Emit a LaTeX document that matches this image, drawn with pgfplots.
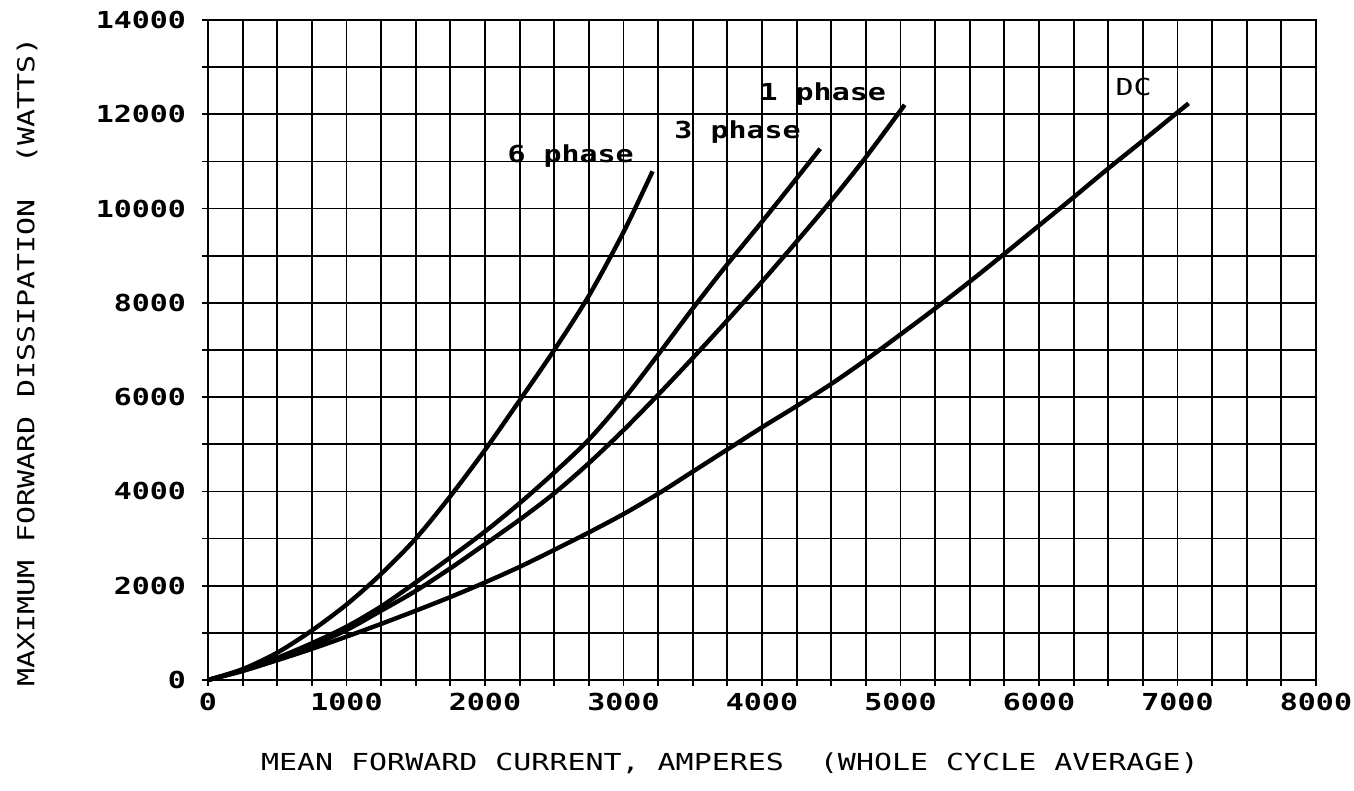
\documentclass[border=0pt]{standalone}
\usepackage{fontspec}
\usepackage{pgfplots}
\usepackage{pgfplotstable}
\pgfplotsset{compat=1.18}
\newfontfamily\plotfont[FakeStretch=1.28]{DejaVu Sans Mono}
\newcommand{\pfs}{\plotfont\fontsize{11.7pt}{14pt}\selectfont}

\pgfplotstableread{
x y
0 0
250 190
500 420
750 660
1000 920
1250 1190
1500 1470
1750 1760
2000 2070
2250 2400
2500 2760
2750 3130
3000 3520
3250 3950
3500 4420
3750 4890
4000 5360
4250 5810
4500 6280
4750 6790
5000 7330
5250 7880
5500 8450
5750 9040
6000 9640
6250 10240
6500 10850
6750 11440
7000 12040
7080 12230
}\dcdata

\pgfplotstableread{
x y
0 0
250 200
500 450
750 730
1000 1060
1250 1470
1500 1890
1750 2370
2000 2880
2250 3400
2500 3960
2750 4600
3000 5300
3250 6050
3500 6830
3750 7630
4000 8450
4250 9300
4500 10170
4750 11090
5030 12200
}\onephase

\pgfplotstableread{
x y
0 0
250 210
500 470
750 780
1000 1130
1250 1560
1500 2070
1750 2600
2000 3150
2250 3750
2500 4400
2750 5100
3000 5950
3250 6900
3500 7880
3750 8820
4000 9720
4250 10640
4420 11270
}\threephase

\pgfplotstableread{
x y
0 0
250 230
500 580
750 1050
1000 1600
1250 2250
1500 3000
1750 3900
2000 4880
2250 5930
2500 7000
2750 8150
3000 9500
3210 10790
}\sixphase

\begin{document}
\begin{tikzpicture}
\begin{axis}[
  scale only axis,
  width=554pt, height=330pt,
  xmin=0, xmax=8000, ymin=0, ymax=14000,
  xtick={0,1000,...,8000},
  ytick={0,2000,...,14000},
  minor xtick={250,500,...,7750},
  minor ytick={1000,3000,...,13000},
  scaled x ticks=false, scaled y ticks=false,
  grid=both,
  major grid style={black, line width=0.9pt},
  minor grid style={black, line width=0.9pt},
  axis line style={black, line width=1.4pt},
  tick align=outside,
  tick pos=left,
  major tick length=3pt, minor tick length=3pt,
  every tick/.style={black, line width=0.9pt},
  /pgf/number format/1000 sep={},
  /pgf/number format/assume math mode=true,
  tick label style={font=\pfs\bfseries},
  yticklabel style={xshift=-4.5pt},
  xlabel={MEAN FORWARD CURRENT, AMPERES\ \ (WHOLE CYCLE AVERAGE)},
  ylabel={MAXIMUM FORWARD DISSIPATION\ \ (WATTS)},
  label style={font=\pfs},
  xlabel style={at={(axis description cs:0.471,0)}, anchor=center, yshift=-41.5pt},
  ylabel style={at={(axis description cs:0,0.482)}, anchor=center, yshift=90.5pt},
  clip=false,
]
\addplot[black, line width=2.2pt, smooth] table[x=x,y=y] {\dcdata};
\addplot[black, line width=2.2pt, smooth] table[x=x,y=y] {\onephase};
\addplot[black, line width=2.2pt, smooth] table[x=x,y=y] {\threephase};
\addplot[black, line width=2.2pt, smooth] table[x=x,y=y] {\sixphase};
\node[anchor=base west, inner sep=0pt, font=\pfs\bfseries] at (axis cs:3980,12300) {1 phase};
\node[anchor=base west, inner sep=0pt, font=\pfs\bfseries] at (axis cs:3365,11480) {3 phase};
\node[anchor=base west, inner sep=0pt, font=\pfs\bfseries] at (axis cs:2160,10970) {6 phase};
\node[anchor=base west, inner sep=0pt, font=\pfs] at (axis cs:6550,12390) {DC};
\end{axis}
\pgfresetboundingbox
\path (current axis.south west) ++(-104pt,-55.5pt) rectangle ++(677pt,395.5pt);
\end{tikzpicture}
\end{document}
